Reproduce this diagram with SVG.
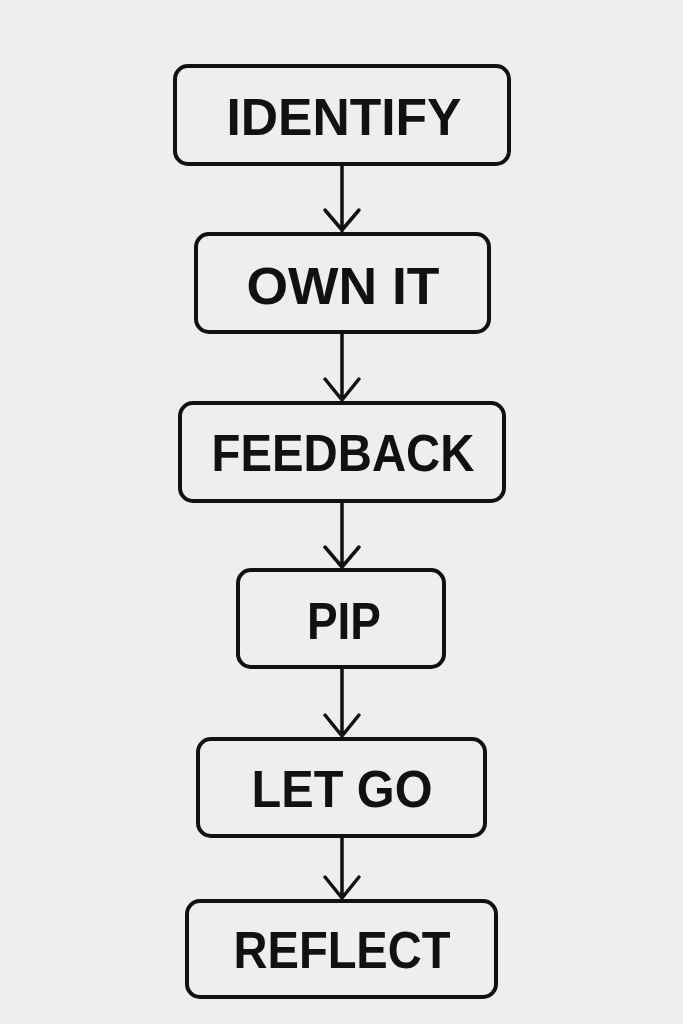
<svg xmlns="http://www.w3.org/2000/svg" width="683" height="1024" viewBox="0 0 683 1024">
<style>
.box{fill:none;stroke:#111;stroke-width:4}
.lbl{font-family:"Liberation Sans",Arial,sans-serif;font-weight:bold;font-size:52px;fill:#111;text-anchor:middle}
.con{fill:none;stroke:#111;stroke-width:3.5;stroke-linecap:round;stroke-linejoin:round}
</style>
<rect width="683" height="1024" fill="#eeeeee"/>
<g id="connectors">
<path class="con" d="M342 165V231M325 210L342 230L359 210"/>
<path class="con" d="M342 333V400M325 379L342 400L359 379"/>
<path class="con" d="M342 502V567M325 547L342 567L359 547"/>
<path class="con" d="M342 668V736M325 715L342 736L359 715"/>
<path class="con" d="M342 837V898M325 877L342 898L359 877"/>
</g>
<g id="n1"><rect class="box" x="175" y="66" width="334" height="98" rx="13"/><text class="lbl" x="344" y="135" textLength="235" lengthAdjust="spacingAndGlyphs">IDENTIFY</text></g>
<g id="n2"><rect class="box" x="196" y="234" width="293" height="98" rx="13"/><text class="lbl" x="343" y="304" textLength="193" lengthAdjust="spacingAndGlyphs">OWN IT</text></g>
<g id="n3"><rect class="box" x="180" y="403" width="324" height="98" rx="13"/><text class="lbl" x="343" y="471" textLength="263" lengthAdjust="spacingAndGlyphs">FEEDBACK</text></g>
<g id="n4"><rect class="box" x="238" y="570" width="206" height="97" rx="13"/><text class="lbl" x="344" y="639" textLength="74" lengthAdjust="spacingAndGlyphs">PIP</text></g>
<g id="n5"><rect class="box" x="198" y="739" width="287" height="97" rx="13"/><text class="lbl" x="342" y="807" textLength="181" lengthAdjust="spacingAndGlyphs">LET GO</text></g>
<g id="n6"><rect class="box" x="187" y="901" width="309" height="96" rx="13"/><text class="lbl" x="342" y="968" textLength="217" lengthAdjust="spacingAndGlyphs">REFLECT</text></g>
</svg>
